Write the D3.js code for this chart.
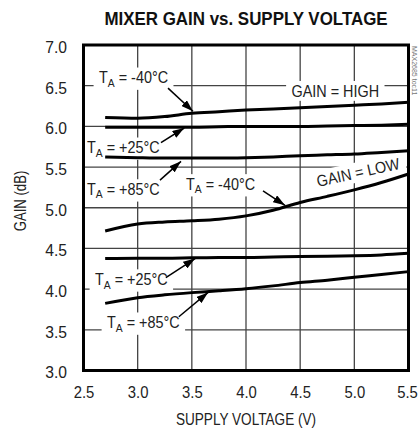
<!DOCTYPE html>
<html>
<head>
<meta charset="utf-8">
<script src="https://cdn.jsdelivr.net/npm/d3@7"></script>
<style>
  html, body { margin: 0; padding: 0; background: #fff; }
  svg { display: block; font-family: "Liberation Sans", Arial, sans-serif; }
</style>
</head>
<body>
<svg id="chart" width="418" height="431"></svg>
<script>
// supply voltage samples (V)
const voltage = [2.7, 3.0, 3.25, 3.5, 3.75, 4.0, 4.25, 4.5, 4.75, 5.0, 5.25, 5.5];

// gain (dB), GAIN = HIGH
const highM40 = [6.11, 6.10, 6.12, 6.16, 6.18, 6.20, 6.215, 6.23, 6.245, 6.26, 6.275, 6.295];
const highP25 = [5.99, 5.99, 5.99, 5.99, 5.995, 6.0, 6.0, 6.0, 6.005, 6.01, 6.015, 6.025];
const highP85 = [5.625, 5.615, 5.61, 5.61, 5.61, 5.615, 5.625, 5.64, 5.65, 5.66, 5.68, 5.70];

// gain (dB), GAIN = LOW
const lowM40 = [4.715, 4.80, 4.825, 4.84, 4.86, 4.90, 4.97, 5.065, 5.14, 5.22, 5.31, 5.415];
const lowP25 = [4.375, 4.38, 4.38, 4.385, 4.39, 4.39, 4.395, 4.40, 4.405, 4.41, 4.42, 4.44];
const lowP85 = [3.825, 3.895, 3.93, 3.957, 3.98, 4.006, 4.04, 4.08, 4.11, 4.146, 4.18, 4.215];

const xTicks = [2.5, 3.0, 3.5, 4.0, 4.5, 5.0, 5.5];
const yTicks = [3.0, 3.5, 4.0, 4.5, 5.0, 5.5, 6.0, 6.5, 7.0];

// annotation labels: [temperature or null, plain text, V, dB, rotation]
const labels = [
  ["-40°C", null, 2.643, 6.53, 0],
  [null, "GAIN = HIGH", 4.42, 6.365, 0],
  ["+25°C", null, 2.532, 5.67, 0],
  ["+85°C", null, 2.532, 5.157, 0],
  ["-40°C", null, 3.446, 5.22, 0],
  [null, "GAIN = LOW", 4.665, 5.255, -12.5],
  ["+25°C", null, 2.606, 4.05, 0],
  ["+85°C", null, 2.717, 3.52, 0]
];
// arrows: [tail V, tail dB, tip V, tip dB]
const arrows = [
  [3.28, 6.47, 3.51, 6.185],
  [3.215, 5.80, 3.43, 5.98],
  [3.206, 5.34, 3.40, 5.57],
  [4.157, 5.206, 4.36, 5.03],
  [3.26, 4.14, 3.53, 4.375],
  [3.38, 3.66, 3.65, 3.96]
];

const svg = d3.select("#chart");
const margin = {top: 45, right: 9.5, bottom: 60.5, left: 83.5};
const width = 418 - margin.left - margin.right;
const height = 431 - margin.top - margin.bottom;

const x = d3.scaleLinear().domain([2.5, 5.5]).range([0, width]);
const y = d3.scaleLinear().domain([3, 7]).range([height, 0]);

const g = svg.append("g").attr("transform", `translate(${margin.left},${margin.top})`);

// text squeezed horizontally to get the narrow face of the original
function narrowText(parent, tx, ty, k, rot) {
    return parent.append("g")
        .attr("transform", `translate(${tx},${ty}) rotate(${rot || 0}) scale(${k},1)`)
        .append("text");
}

// title
narrowText(svg, 246, 25, 0.915)
    .attr("text-anchor", "middle")
    .attr("font-size", 18.5).attr("font-weight", "bold")
    .attr("fill", "#111")
    .text("MIXER GAIN vs. SUPPLY VOLTAGE");

// grid
g.append("g").attr("class", "grid")
    .selectAll("line")
    .data(xTicks.slice(1, -1))
    .join("line")
    .attr("x1", d => x(d)).attr("x2", d => x(d))
    .attr("y1", 0).attr("y2", height)
    .attr("stroke", "#444").attr("stroke-width", 1.3);

g.append("g").attr("class", "grid")
    .selectAll("line")
    .data(yTicks.slice(1, -1))
    .join("line")
    .attr("y1", d => y(d)).attr("y2", d => y(d))
    .attr("x1", 0).attr("x2", width)
    .attr("stroke", "#444").attr("stroke-width", 1.3);

// axes
const xAxis = g.append("g")
    .attr("transform", `translate(0,${height})`)
    .call(d3.axisBottom(x).tickValues(xTicks).tickFormat(d3.format(".1f")).tickSize(0));
xAxis.select(".domain").remove();
xAxis.selectAll("text")
    .attr("y", 27.5).attr("dy", 0)
    .attr("transform", "scale(0.9,1)")
    .attr("font-size", 16.5).attr("fill", "#222")
    .attr("font-family", null);
// keep the last label inside the page
xAxis.selectAll(".tick").filter(d => d === 5.5).select("text")
    .attr("x", -1.5 / 0.9);

const yAxis = g.append("g")
    .call(d3.axisLeft(y).tickValues(yTicks).tickFormat(d3.format(".1f")).tickSize(0));
yAxis.select(".domain").remove();
yAxis.selectAll("text")
    .attr("x", -16.5 / 0.95).attr("dy", "0.45em")
    .attr("transform", "scale(0.95,1)")
    .attr("font-size", 16.5).attr("fill", "#222")
    .attr("font-family", null);

// axis titles
narrowText(svg, 246, 425, 0.8)
    .attr("text-anchor", "middle")
    .attr("font-size", 17).attr("fill", "#222")
    .text("SUPPLY VOLTAGE (V)");

narrowText(svg, 26, 201, 0.82, -90)
    .attr("text-anchor", "middle")
    .attr("font-size", 16).attr("fill", "#222")
    .text("GAIN (dB)");

// annotation labels with white backing
const labelG = g.append("g").attr("class", "labels");
labels.forEach(([temp, txt, v, db, rot]) => {
    const t = narrowText(labelG, x(v), y(db), 0.9, rot)
        .attr("font-size", 16).attr("fill", "#222");
    if (temp) {
        t.append("tspan").text("T");
        t.append("tspan").attr("font-size", 11.5).attr("dy", 3.5).text("A");
        t.append("tspan").attr("dy", -3.5).text(" = " + temp);
    } else {
        t.text(txt);
    }
    const b = t.node().getBBox();
    d3.select(t.node().parentNode).insert("rect", "text")
        .attr("x", b.x - 6).attr("y", b.y - 1)
        .attr("width", b.width + 12).attr("height", b.height + 2)
        .attr("fill", "#fff");
});

// curves
const line = d3.line()
    .x((d, i) => x(voltage[i]))
    .y(d => y(d))
    .curve(d3.curveMonotoneX);

g.append("g").attr("class", "curves")
    .selectAll("path")
    .data([highM40, highP25, highP85, lowM40, lowP25, lowP85])
    .join("path")
    .attr("d", line)
    .attr("fill", "none")
    .attr("stroke", "#000")
    .attr("stroke-width", 3);

// arrows
svg.append("defs").append("marker")
    .attr("id", "head")
    .attr("viewBox", "0 0 10 10")
    .attr("refX", 10).attr("refY", 5)
    .attr("markerUnits", "userSpaceOnUse")
    .attr("markerWidth", 12).attr("markerHeight", 8)
    .attr("preserveAspectRatio", "none")
    .attr("orient", "auto")
    .append("path")
    .attr("d", "M0,0L10,5L0,10Z")
    .attr("fill", "#000");

g.append("g").attr("class", "arrows")
    .selectAll("line")
    .data(arrows)
    .join("line")
    .attr("x1", d => x(d[0])).attr("y1", d => y(d[1]))
    .attr("x2", d => x(d[2])).attr("y2", d => y(d[3]))
    .attr("stroke", "#000").attr("stroke-width", 1.5)
    .attr("marker-end", "url(#head)");

// frame
g.append("rect")
    .attr("width", width).attr("height", height)
    .attr("fill", "none")
    .attr("stroke", "#000").attr("stroke-width", 3);

// part number tag
svg.append("text")
    .attr("transform", "translate(412,46) rotate(90)")
    .attr("font-size", 7).attr("fill", "#777")
    .text("MAX2685 toc11");
</script>
</body>
</html>
